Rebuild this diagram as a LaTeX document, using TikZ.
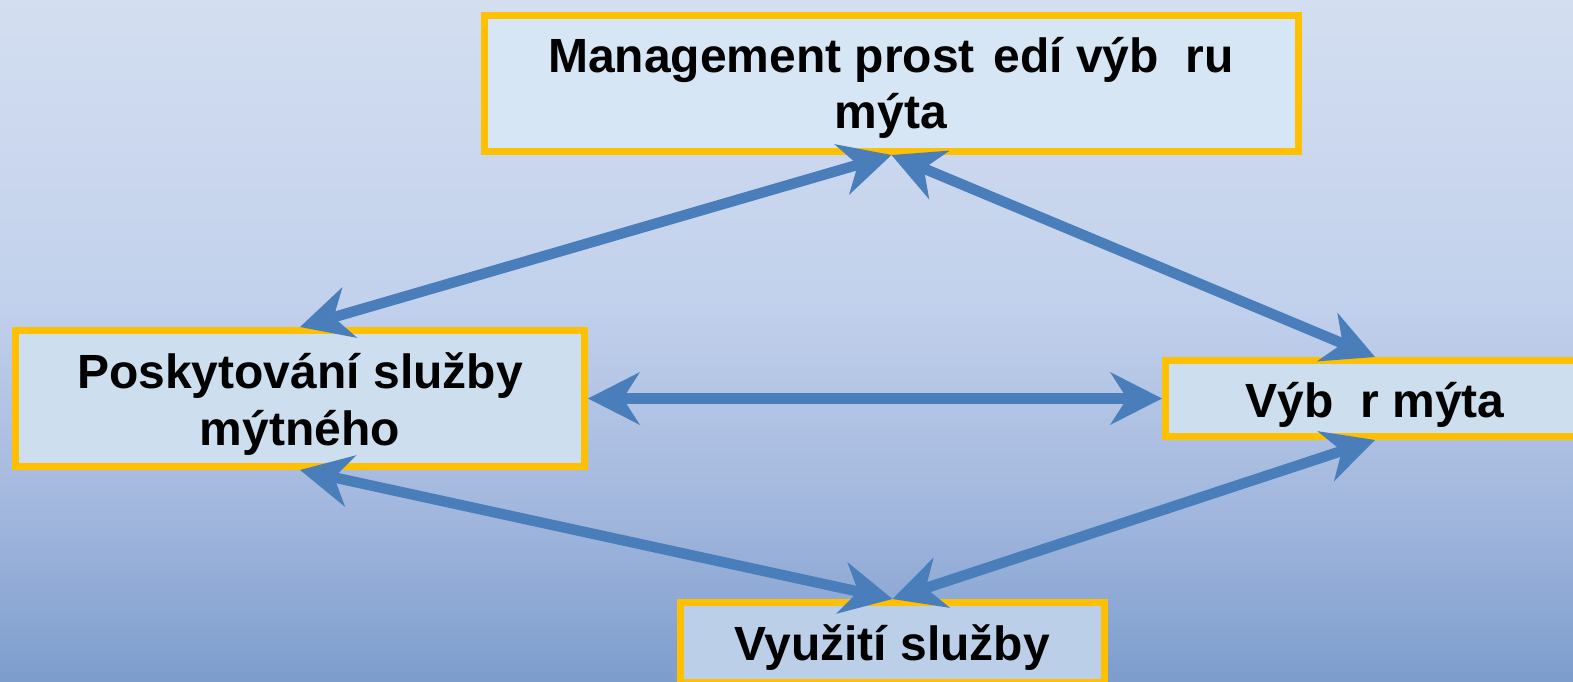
\documentclass[tikz,border=0pt]{standalone}
\usepackage{fontspec}
\setmainfont{Liberation Sans}
\usetikzlibrary{arrows.meta}
\definecolor{bgtop}{RGB}{211,222,240}
\definecolor{bgmid}{RGB}{194,209,236}
\definecolor{bglow}{RGB}{163,184,222}
\definecolor{bgbot}{RGB}{125,157,205}
\definecolor{boxyellow}{RGB}{255,192,0}
\definecolor{arrowblue}{RGB}{74,126,187}
\definecolor{filltop}{RGB}{214,230,244}
\definecolor{fillmid}{RGB}{205,222,239}
\definecolor{fillbot}{RGB}{187,208,232}
\pgfdeclareverticalshading{bgshade}{100bp}{color(0bp)=(bgbot); color(25bp)=(bgbot); color(38bp)=(bglow); color(53bp)=(bgmid); color(75bp)=(bgtop); color(100bp)=(bgtop)}
\tikzset{
  boxstyle/.style={draw=boxyellow, line width=7pt, inner sep=0pt},
  lbl/.style={font=\bfseries\fontsize{48}{56}\selectfont, anchor=base, inner sep=0pt, text=black},
  link/.style={draw=arrowblue, line width=10.5pt,
    arrows={Stealth[length=52pt,width=53pt,inset=17pt,line width=0pt]-Stealth[length=52pt,width=53pt,inset=17pt,line width=0pt]}}
}
\begin{document}
\begin{tikzpicture}[x=1pt,y=-1pt]
\useasboundingbox (0,0) rectangle (1573,681);
\clip (0,0) rectangle (1573,681);
\shade[shading=bgshade] (0,0) rectangle (1573,681);
% boxes
\node[boxstyle, fill=filltop, minimum width=814pt, minimum height=136pt] (m) at (891.5,83.5) {};
\node[boxstyle, fill=fillmid, minimum width=569pt, minimum height=136pt] (p) at (300,398.5) {};
\node[boxstyle, fill=fillmid, minimum width=419pt, minimum height=76pt] (v) at (1375,398.5) {};
\node[boxstyle, fill=fillbot, minimum width=424pt, minimum height=80pt] (u) at (892.5,642.5) {};
% texts
\node[lbl] (m1) at (891,72) {Management prost\hspace{0.11em} edí výb\hspace{0.28em} ru};
\node[lbl] (m2) at (891,128) {mýta};
\node[lbl] (p1) at (300,388) {Poskytování služby};
\node[lbl] (p2) at (300,445) {mýtného};
\node[lbl] (v1) at (1375,417) {Výb\hspace{0.28em} r mýta};
\node[lbl] (u1) at (892,660) {Využití služby};
% connectors
\draw[link] (m.south) -- (p.north);
\draw[link] (m.south) -- (v.north);
\draw[link] (p.east) -- (v.west);
\draw[link] (p.south) -- (u.north);
\draw[link] (v.south) -- (u.north);
\end{tikzpicture}
\end{document}
